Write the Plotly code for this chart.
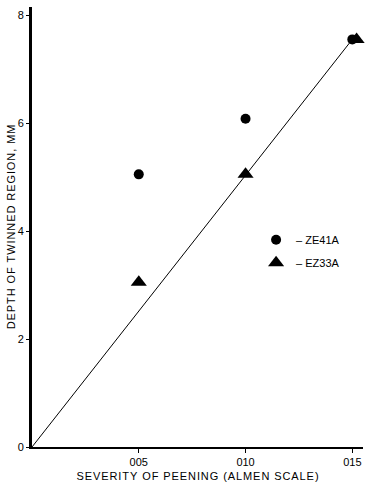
import plotly.graph_objects as go

# Data
severity = [0.005, 0.010, 0.015]
ze41a_depth = [5.05, 6.08, 7.55]
ez33a_severity = [0.005, 0.010, 0.0152]
ez33a_depth = [3.05, 5.05, 7.55]
fit_x = [0.0, 0.015]
fit_y = [0.0, 7.55]
x_tickvals = [0.005, 0.010, 0.015]
x_ticktext = ["005", "010", "015"]
y_tickvals = [0, 2, 4, 6, 8]

font = "Liberation Sans, Arial, sans-serif"
HS = "\u200a"


def spaced(s):
    return HS.join(s)


fig = go.Figure()
fig.add_trace(go.Scatter(x=fit_x, y=fit_y, mode="lines",
                         line=dict(color="black", width=1), showlegend=False,
                         cliponaxis=False))
fig.add_trace(go.Scatter(x=severity, y=ze41a_depth, mode="markers", name="– ZE41A",
                         legendgroup="a",
                         marker=dict(symbol="circle", size=10, color="black"),
                         cliponaxis=False))
fig.add_trace(go.Scatter(x=ez33a_severity, y=ez33a_depth, mode="markers", name="– EZ33A",
                         legendgroup="b",
                         marker=dict(symbol="triangle-up", size=14, color="black"),
                         cliponaxis=False))

fig.update_layout(
    width=366, height=487,
    margin=dict(l=32, r=3, t=7, b=40, autoexpand=False),
    paper_bgcolor="white", plot_bgcolor="white",
    font=dict(family=font, color="black", size=10),
    legend=dict(x=0.677, y=0.445, xanchor="left", yanchor="middle",
                bgcolor="rgba(0,0,0,0)", font=dict(size=11, family=font),
                itemsizing="trace", traceorder="grouped", tracegroupgap=4),
    xaxis=dict(range=[0, 0.0155], tickvals=x_tickvals, ticktext=x_ticktext,
               automargin=False,
               showgrid=False, zeroline=False, showline=True, linecolor="black",
               linewidth=2, ticks="outside", ticklen=4, tickcolor="black",
               tickfont=dict(size=11),
               title=dict(text=spaced("SEVERITY OF PEENING (ALMEN SCALE)"),
                          font=dict(size=11), standoff=5)),
    yaxis=dict(range=[0, 8.15], tickvals=y_tickvals, automargin=False,
               showgrid=False, zeroline=False, showline=True, linecolor="black",
               linewidth=3, ticks="outside", ticklen=3, tickcolor="black",
               tickfont=dict(size=11),
               title=dict(text=spaced("DEPTH OF TWINNED REGION, MM"),
                          font=dict(size=11), standoff=0)),
)

fig.write_html("out.html", config={"displayModeBar": False},
               post_script="document.body.style.margin='0';document.body.style.overflow='hidden';")
